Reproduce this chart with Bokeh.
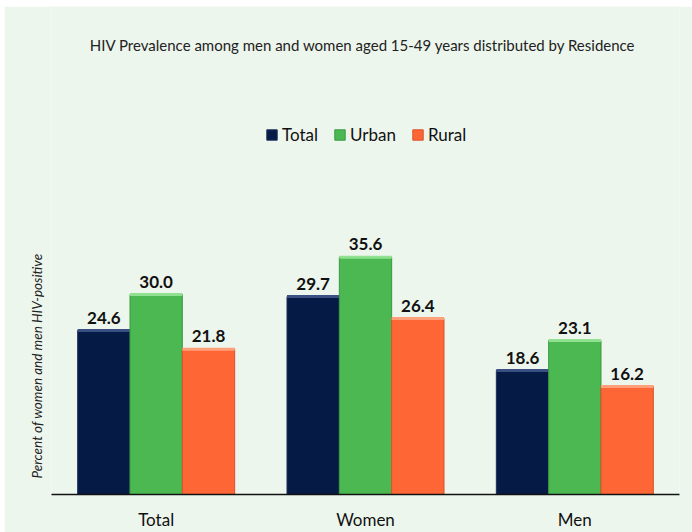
from bokeh.plotting import figure
from bokeh.models import (ColumnDataSource, FactorRange, Range1d, Label, Legend,
                          LegendItem, Spacer, Title)
from bokeh.transform import dodge
from bokeh.layouts import column, row
from bokeh.embed import file_html
from bokeh.resources import INLINE
from bokeh.core.properties import value

# HIV prevalence (%) among people aged 15-49, by residence
groups = ["Total", "Women", "Men"]
total = [24.6, 29.7, 18.6]
urban = [30.0, 35.6, 23.1]
rural = [21.8, 26.4, 16.2]

series_names = ["Total", "Urban", "Rural"]
series_values = [total, urban, rural]
fill_colors = ["#061a46", "#4bb852", "#ff6636"]
edge_colors = ["#1d2f5c", "#3a9a40", "#d9512a"]
top_colors = ["#3a4f82", "#8fe08f", "#ffa07a"]
offsets = [-0.25, 0.0, 0.25]

BG = "#edf6ed"
FONT = "Lato"

p = figure(x_range=FactorRange(*groups, range_padding=0),
           y_range=Range1d(0, 73.2),
           width=688, height=526,
           min_border_left=47, min_border_right=13,
           min_border_top=0, min_border_bottom=38,
           background_fill_color=BG, border_fill_color=BG,
           outline_line_color=None,
           toolbar_location=None, output_backend="svg")

p.grid.grid_line_color = None
p.yaxis.visible = False
p.xaxis.axis_line_color = "#111111"
p.xaxis.axis_line_width = 1.5
p.xaxis.major_tick_line_color = None
p.xaxis.minor_tick_line_color = None
p.xaxis.major_label_text_font = FONT
p.xaxis.major_label_text_font_size = "17px"
p.xaxis.major_label_text_color = "#111111"
p.xaxis.major_label_standoff = 8

items = []
for name, vals, fc, ec, tc, off in zip(series_names, series_values, fill_colors,
                                       edge_colors, top_colors, offsets):
    src = ColumnDataSource(dict(g=groups, v=vals, lbl=[f"{x:.1f}" for x in vals]))
    r = p.vbar(x=dodge("g", off, range=p.x_range), top="v", width=0.25, bottom=0,
               source=src, fill_color=fc, line_color=ec, line_width=1)
    # lighter bevel along the top edge of each bar
    p.rect(x=dodge("g", off, range=p.x_range), y="v", width=0.25, height=3,
           height_units="screen", source=src, fill_color=tc, line_color=None)
    p.text(x=dodge("g", off, range=p.x_range), y="v", text="lbl", source=src,
           text_align="center", text_baseline="bottom", y_offset=-7,
           text_font=value(FONT), text_font_style="bold",
           text_font_size="17px", text_color="#111111")
    items.append(LegendItem(label=name, renderers=[r]))

legend = Legend(items=items, orientation="horizontal", location=(214, 349),
                background_fill_alpha=0, border_line_color=None,
                label_text_font=FONT, label_text_font_size="17px",
                label_text_color="#111111", glyph_width=13, glyph_height=13,
                spacing=15, label_standoff=4, padding=4, margin=0)
p.add_layout(legend)

p.add_layout(Label(x=1.488, y=67.5, text="HIV Prevalence among men and women aged 15-49 years distributed by Residence",
                   text_align="center", text_baseline="middle",
                   text_font=FONT, text_font_size="15px", text_color="#222222"))

# vertical axis caption, anchored near the bottom of the plot
p.add_layout(Title(text="Percent of women and men HIV-positive", align="left",
                   offset=16, standoff=14, text_font=FONT, text_font_style="italic",
                   text_font_size="13.5px", text_color="#222222"), "left")

layout = column(Spacer(height=6), row(Spacer(width=4), p))
open("out.html", "w").write(file_html(layout, INLINE))
